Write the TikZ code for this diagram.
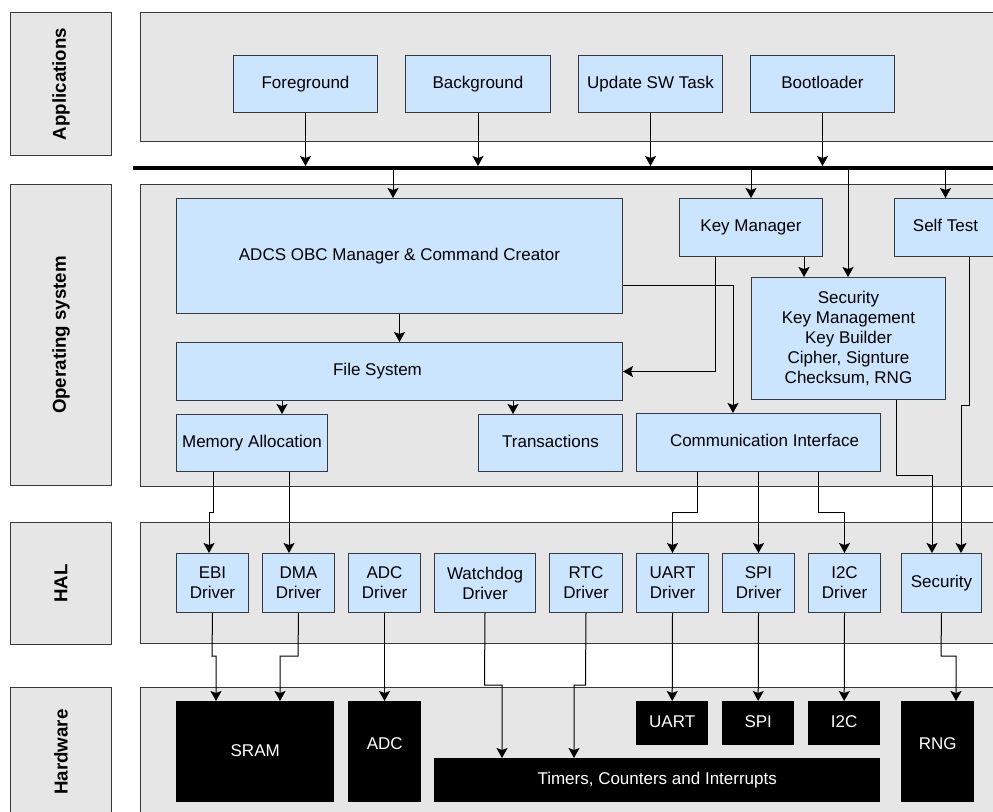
\documentclass[tikz,border=0pt]{standalone}
\usepackage{fontspec}
\setmainfont{Liberation Sans}
\usetikzlibrary{arrows.meta,calc}

\definecolor{panelgray}{RGB}{230,230,230}
\definecolor{boxblue}{RGB}{204,229,255}
\definecolor{edge}{RGB}{54,57,61}

\tikzset{
  every node/.style={font=\fontsize{17}{20}\selectfont},
  tier/.style={draw=edge, fill=panelgray, line width=1pt, inner sep=0pt, anchor=north west},
  blk/.style={draw=edge, fill=boxblue, line width=1pt, inner sep=0pt, anchor=north west, align=center,
              text height=12.4pt, text depth=3.6pt},
  multi/.style={text height=, text depth=},
  hw/.style={fill=black, text=white, inner sep=0pt, anchor=north west, align=center,
             text height=12.4pt, text depth=3.6pt},
  lab/.style={rotate=90, font=\fontsize{18.7}{22}\selectfont\bfseries},
  arr/.style={draw=black, line width=1pt, -{Stealth[length=10pt,width=11pt,inset=2pt]}},
}

% box given by its corners: [style], x1, y1, x2, y2, name, text
\newcommand\rectnode[7][]{%
  \node[#1, minimum width={(#4)-(#2)}, minimum height={(#5)-(#3)}] (#6) at (#2,#3) {#7};}

\begin{document}
\begin{tikzpicture}[x=1pt,y=-1pt]
\clip (0,0) rectangle (993,811);
\fill[white] (0,0) rectangle (993,811);

% layer captions
\rectnode[tier,label={[lab]center:Applications}]{10}{12}{111}{155}{tApp}{}
\rectnode[tier,label={[lab]center:Operating system}]{10}{184}{111}{485}{tOS}{}
\rectnode[tier,label={[lab]center:HAL}]{10}{522}{111}{644}{tHAL}{}
\rectnode[tier,label={[lab]center:Hardware}]{10}{687}{111}{816}{tHW}{}

% layer panels
\rectnode[tier]{140}{12}{1000}{141}{pApp}{}
\rectnode[tier]{140}{184}{1000}{486}{pOS}{}
\rectnode[tier]{140}{522}{1000}{643}{pHAL}{}
\rectnode[tier]{140}{687}{1000}{820}{pHW}{}

% system bus
\coordinate (busW) at (133,168);
\coordinate (busE) at (1000,168);
\draw[line width=4pt] (busW) -- (busE);
\coordinate (busT) at (0,166);
\coordinate (busB) at (0,170);

% applications
\rectnode[blk]{233}{55}{377}{112}{fg}{Foreground}
\rectnode[blk]{405}{55}{550}{112}{bg}{Background}
\rectnode[blk]{578}{55}{722}{112}{upd}{Update SW Task}
\rectnode[blk]{750}{55}{894}{112}{boot}{Bootloader}

% operating system
\rectnode[blk]{176}{198}{622}{313}{adcs}{ADCS OBC Manager \& Command Creator}
\rectnode[blk,label={[xshift=-22pt,text height=12.4pt,text depth=3.6pt]center:File System}]{176}{342}{622}{400}{fs}{}
\rectnode[blk]{176}{414}{327}{471}{mem}{Memory Allocation}
\rectnode[blk]{478}{414}{622}{471}{trans}{Transactions}
\rectnode[blk]{679}{198}{822}{256}{km}{Key Manager}
\rectnode[blk]{894}{198}{996}{256}{st}{Self Test}
\rectnode[blk,multi]{751}{277}{945}{399}{sec}{Security\\Key Management\\Key Builder\\Cipher, Signture\\Checksum, RNG}
\rectnode[blk,label={[xshift=6pt,text height=12.4pt,text depth=3.6pt]center:Communication Interface}]{636}{413}{880}{471}{comm}{}

% HAL
\rectnode[blk,multi]{176}{553}{248}{612}{ebi}{EBI\\Driver}
\rectnode[blk,multi]{262}{553}{334}{612}{dma}{DMA\\Driver}
\rectnode[blk,multi]{348}{553}{420}{612}{adcd}{ADC\\Driver}
\rectnode[blk,multi]{434}{553}{535}{612}{wd}{Watchdog\\Driver}
\rectnode[blk,multi]{549}{553}{622}{612}{rtc}{RTC\\Driver}
\rectnode[blk,multi]{636}{553}{708}{612}{uartd}{UART\\Driver}
\rectnode[blk,multi]{722}{553}{794}{612}{spid}{SPI\\Driver}
\rectnode[blk,multi]{808}{553}{880}{612}{i2cd}{I2C\\Driver}
\rectnode[blk]{901}{553}{981}{612}{hsec}{Security}

% hardware
\rectnode[hw]{176}{701}{334}{802}{sram}{SRAM}
\rectnode[hw,label={[text=white,yshift=6.5pt,text height=12.4pt,text depth=3.6pt]center:ADC}]{348}{701}{421}{802}{adchw}{}
\rectnode[hw]{434}{758}{880}{802}{tim}{Timers, Counters and Interrupts}
\rectnode[hw]{636}{701}{708}{745}{uarthw}{UART}
\rectnode[hw]{722}{701}{794}{745}{spihw}{SPI}
\rectnode[hw]{808}{701}{880}{745}{i2chw}{I2C}
\rectnode[hw,label={[text=white,yshift=6.5pt,text height=12.4pt,text depth=3.6pt]center:RNG}]{901}{701}{974}{802}{rng}{}

% applications onto the bus
\draw[arr] (fg.south) -- (fg.south |- busT);
\draw[arr] (bg.south) -- (bg.south |- busT);
\draw[arr] (upd.south) -- (upd.south |- busT);
\draw[arr] (boot.south) -- (boot.south |- busT);

% bus into the operating system
\draw[arr] (393,0 |- busB) -- (393,0 |- adcs.north);
\draw[arr] (km.north |- busB) -- (km.north);
\draw[arr] (848,0 |- busB) -- (848,0 |- sec.north);
\draw[arr] (st.north |- busB) -- (st.north);

% inside the operating system
\draw[arr] (adcs.south) -- (fs.north);
\draw[arr] (282,0 |- fs.south) -- (282,0 |- mem.north);
\draw[arr] (513,0 |- fs.south) -- (513,0 |- trans.north);
\draw[arr] (715,0 |- km.south) |- (fs.east);
\draw[arr] (adcs.east |- 0,285) -| (733,0 |- comm.north);
\draw[arr] (804,0 |- km.south) -- (804,0 |- sec.north);

% operating system down to the HAL
\draw[arr] (896,0 |- sec.south) -- (896,475) -- (932,475) -- (932,0 |- hsec.north);
\draw[arr] (969,0 |- st.south) -- (969,405) -- (961,405) -- (961,0 |- hsec.north);
\draw[arr] (697,0 |- comm.south) -- (697,512) -| (uartd.north);
\draw[arr] (spid.north |- comm.south) -- (spid.north);
\draw[arr] (818,0 |- comm.south) -- (818,512) -| (i2cd.north);
\draw[arr] (213,0 |- mem.south) -- (213,512) -- (209,512) -- (209,0 |- ebi.north);
\draw[arr] (289,0 |- mem.south) -- (289,0 |- dma.north);

% HAL down to the hardware
\draw[arr] (ebi.south) -- (212,656) -- (216,656) -- (216,0 |- sram.north);
\draw[arr] (dma.south) -- (298,656) -- (280,656) -- (280,0 |- sram.north);
\draw[arr] (adcd.south) -- (adcd.south |- adchw.north);
\draw[arr] (wd.south) -- (484.5,685) -- (502,685) -- (502,0 |- tim.north);
\draw[arr] (rtc.south) -- (585.5,685) -- (574,685) -- (574,0 |- tim.north);
\draw[arr] (uartd.south) -- (uarthw.north);
\draw[arr] (spid.south) -- (spihw.north);
\draw[arr] (i2cd.south) -- (i2chw.north);
\draw[arr] (hsec.south) -- (941,656) -- (956,656) -- (956,0 |- rng.north);
\end{tikzpicture}
\end{document}
